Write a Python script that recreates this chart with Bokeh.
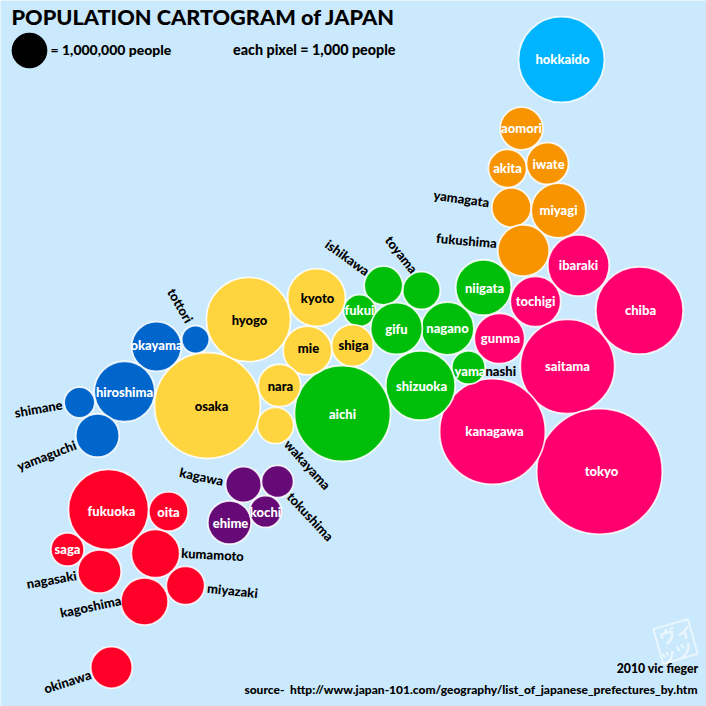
from math import pi, sqrt
from bokeh.plotting import figure
from bokeh.models import Range1d, ColumnDataSource
from bokeh.core.properties import value
from bokeh.embed import file_html
from bokeh.resources import INLINE

BG = "#cbe9fc"
FONT = "Lato Black"

# name, x, y, population in thousands (each pixel = 1,000 people), group
names = ["hokkaido","aomori","akita","iwate","yamagata","miyagi","fukushima",
         "ibaraki","tochigi","gunma","saitama","chiba","tokyo","kanagawa",
         "niigata","toyama","ishikawa","fukui","yamanashi","nagano","gifu","shizuoka","aichi",
         "mie","shiga","kyoto","osaka","hyogo","nara","wakayama",
         "tottori","shimane","okayama","hiroshima","yamaguchi",
         "kagawa","tokushima","ehime","kochi",
         "fukuoka","saga","nagasaki","kumamoto","oita","miyazaki","kagoshima","okinawa"]
cx = [561,521,507,547,511,558,523,
      578,535,499,567,639,599,492,
      483,421,383,359,468,447,396,420,342,
      307,352,316,207,248,279,275,
      195,79,156,124,97,
      243,277,229,265,
      108,67,99,155,168,185,144,111]
cy = [59,128,168,163,207,210,250,
      265,301,338,366,310,471,431,
      287,290,285,310,367,328,328,385,413,
      350,345,297,405,319,385,425,
      339,402,346,391,435,
      484,481,522,511,
      509,549,571,553,511,585,601,667]
population = [5800,1440,1150,1390,1220,2340,2080,
              2970,2000,2000,7000,6000,12400,8800,
              2430,1110,1170,800,880,2190,2110,3790,7250,
              1870,1370,2630,8820,5590,1420,1040,
              600,740,1950,2880,1490,
              1010,810,1480,800,
              5050,870,1480,1840,1210,1160,1760,1360]
colors = ["#00b4ff"] + ["#f79400"]*6 + ["#ff006e"]*7 + ["#00bf0a"]*9 + ["#ffd53f"]*7 + ["#0066cc"]*5 + ["#660a77"]*4 + ["#ff0029"]*8

# labels placed on their circles
inner_names = ["hokkaido","aomori","akita","iwate","miyagi","ibaraki","tochigi","gunma","saitama","chiba","tokyo","kanagawa",
               "niigata","fukui","nagano","gifu","shizuoka","aichi","okayama","hiroshima","ehime","kochi","fukuoka","saga","oita"]
inner_x = [562,521,507,548,558,578,535,500,567,640,601,494,484,359,447,396,421,342,156,124,230,265,111,67,168]
inner_y = [59,128,168,164,210,265,301,338,366,310,471,431,288,310,328,329,386,414,345,392,523,512,511,549,512]
dark_names = ["kyoto","hyogo","mie","shiga","nara","osaka"]
dark_x = [317,249,308,353,280,211]
dark_y = [298,320,348,345,386,406]

# labels placed beside their circles, with the slope they are written on
outer_names = ["yamagata","fukushima","ishikawa","toyama","tottori","shimane","yamaguchi","wakayama",
               "kagawa","tokushima","kumamoto","miyazaki","nagasaki","kagoshima","okinawa"]
outer_x = [461,466,347,401,180,38,46,307,201,310,212,232,51,90,67]
outer_y = [199,241,258,255,306,409,456,465,477,517,555,591,580,607,682]
outer_angle = [-8,-5,-36,-52,-60,10,21,-48,-12,-47,-3,-6,10,12,18]

# left-hand and right-hand half of the yamanashi label
split_label = ["yama","nashi"]

p = figure(width=706, height=706, output_backend="svg", toolbar_location=None,
           x_range=Range1d(0, 706), y_range=Range1d(706, 0),
           background_fill_color=BG, border_fill_color=BG, outline_line_color=None,
           min_border=0)
p.axis.visible = False
p.grid.visible = False

# faint stamp in the lower right corner
p.rect([675], [641], width=[36], height=[36], angle=[16], angle_units="deg",
       fill_alpha=0, line_color="white", line_alpha=0.6, line_width=2)
p.text([675, 675], [632, 651], text=["ヴィ", "ッツ"], angle=[16, 16], angle_units="deg",
       text_font=value("Noto Sans CJK JP"), text_font_style="bold", text_font_size="17px",
       text_color="white", text_alpha=0.65, text_align="center", text_baseline="middle")

src = ColumnDataSource(dict(x=cx, y=cy, r=[sqrt(v / pi) for v in population], c=colors, n=names))
p.circle("x", "y", radius="r", source=src, fill_color="c", line_color="white", line_alpha=0.85, line_width=1.8)

def labels(xs, ys, ts, color, size, angles=None, align="center"):
    d = dict(x=xs, y=[v - 1 for v in ys], t=ts, a=angles if angles else [0]*len(ts))
    p.text("x", "y", text="t", angle="a", angle_units="deg", source=ColumnDataSource(d),
           text_font=value(FONT), text_font_style="normal", text_font_size=size,
           text_color=color, text_align=align, text_baseline="middle")

labels(inner_x, inner_y, inner_names, "white", "13px")
labels(dark_x, dark_y, dark_names, "black", "13px")
labels(outer_x, outer_y, outer_names, "black", "13px", outer_angle)
labels([485], [371], split_label[:1], "white", "13px", align="right")
labels([485], [371], split_label[1:], "black", "13px", align="left")

labels([11], [17], ["POPULATION CARTOGRAM of JAPAN"], "black", "21.7px", align="left")
p.circle([29], [50], radius=[sqrt(1000 / pi)], fill_color="black", line_color=None)
labels([50], [50], ["= 1,000,000 people"], "black", "14px", align="left")
labels([395], [50], ["each pixel = 1,000 people"], "black", "14.3px", align="right")
labels([698], [669], ["2010 vic fieger"], "black", "12.3px", align="right")
labels([697], [690], ["source-\u00a0\u00a0http://www.japan-101.com/geography/list_of_japanese_prefectures_by.htm"], "black", "12px", align="right")

open("out.html", "w").write(file_html(p, INLINE))
